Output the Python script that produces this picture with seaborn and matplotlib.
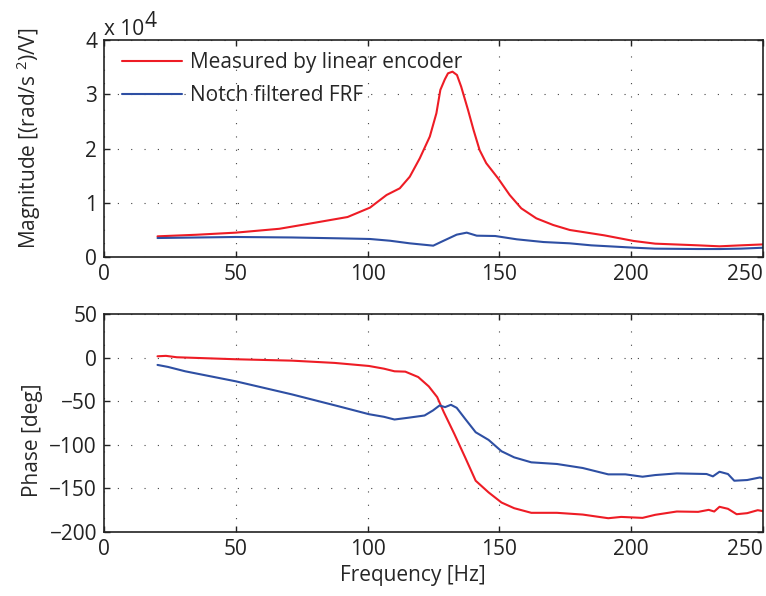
import numpy as np
import pandas as pd
import matplotlib
matplotlib.use("Agg")
import matplotlib.pyplot as plt
from matplotlib.ticker import FuncFormatter
import seaborn as sns

# ---- data ----
mag_red_f = [20.3, 35, 50, 66.5, 79.4, 92.4, 100.9, 107.2, 112.2, 116, 119.8, 123.6, 126.1, 127.6,
             129.3, 130.5, 132.2, 133.9, 135.5, 138.1, 140.2, 142.5, 145, 149.5, 153.9, 158.3, 164,
             170.4, 176.7, 189.7, 201, 209.1, 225.4, 233.5, 241.6, 250.5]
mag_red = [0.381, 0.41, 0.449, 0.52, 0.627, 0.737, 0.91, 1.143, 1.266, 1.48, 1.82, 2.22, 2.65, 3.08,
           3.275, 3.386, 3.416, 3.355, 3.14, 2.71, 2.34, 1.97, 1.73, 1.45, 1.143, 0.897, 0.713,
           0.59, 0.498, 0.40, 0.295, 0.246, 0.215, 0.197, 0.215, 0.233]  # x 1e4

mag_blue_f = [20.3, 50, 71.3, 89.2, 100.9, 108.5, 116, 124.9, 128.1, 133.8, 137.6, 141.4, 148.4,
              156.6, 166.7, 176.7, 184.8, 201, 209, 225.4, 233.5, 241.6, 250.5]
mag_blue = [0.35, 0.369, 0.36, 0.344, 0.332, 0.30, 0.252, 0.209, 0.283, 0.412, 0.449, 0.393, 0.387,
            0.326, 0.276, 0.252, 0.215, 0.172, 0.154, 0.147, 0.147, 0.154, 0.172]  # x 1e4

ph_red_f = [20.3, 23.5, 27.6, 50, 71.3, 87.5, 100.5, 106.2, 110.2, 114.3, 119.2, 123.2, 126.4, 128.9,
            132.9, 137, 141, 145.9, 150.8, 155.6, 162.1, 171.8, 181.6, 191.3, 196.2, 204.3, 209.1,
            217.3, 225.4, 229.4, 231.5, 233.5, 236.7, 240, 244, 248, 250.9]
ph_red = [1.5, 2, 0.4, -1.9, -3.5, -6.1, -9.6, -12.7, -15.7, -16.1, -22.3, -33, -45.3, -62.5,
          -87.5, -114.4, -141.2, -154.6, -166.2, -172.7, -178, -178, -180, -184.2, -182.7, -183.8, -180.3,
          -176.5, -176.9, -174.6, -176.5, -171.1, -173.4, -179.6, -178.4, -175, -176.5]

ph_blue_f = [20.3, 24.3, 30.8, 50, 71.3, 89.2, 100.5, 106.2, 110.2, 115.1, 121.6, 124.8, 127.3, 129.4,
             131.6, 133.8, 137, 141, 145.9, 150.8, 155.6, 162.1, 171.8, 181.6, 191.3, 197.8, 204.3,
             209.1, 217.3, 228.6, 231, 233.5, 236.7, 239.1, 244, 248.9, 250.9]
ph_blue = [-8.4, -10.7, -15.7, -27.2, -42.2, -56, -64.9, -67.9, -71, -69.1, -66.4, -60.6, -54.9, -56.8,
           -54.1, -57.6, -70.2, -85.6, -94.4, -107.4, -114.4, -120.1, -122, -126.6, -133.9, -133.9, -136.6,
           -134.7, -132.8, -133.5, -136.2, -130.9, -133.5, -141.2, -140.4, -137.4, -139.7]

labels = ["Measured by linear encoder", "Notch filtered FRF"]
x_ticks = [0, 50, 100, 150, 200, 250]
mag_ticks = [0, 1e4, 2e4, 3e4, 4e4]
ph_ticks = [50, 0, -50, -100, -150, -200]

RED = "#ee1c25"
BLUE = "#2e4fa3"

sns.set_style("ticks")
plt.rcParams["font.family"] = ["Open Sans", "DejaVu Sans"]
plt.rcParams["mathtext.fontset"] = "custom"
plt.rcParams["mathtext.rm"] = "Open Sans"
plt.rcParams["mathtext.it"] = "Open Sans"
FS = 15

fig = plt.figure(figsize=(7.66, 5.96), dpi=100)
ax1 = fig.add_axes([104 / 766, 1 - 257 / 596, 659 / 766, 217 / 596])
ax2 = fig.add_axes([104 / 766, 1 - 532 / 596, 659 / 766, 218 / 596])

df_mr = pd.DataFrame({"f": mag_red_f, "m": np.array(mag_red) * 1e4})
df_mb = pd.DataFrame({"f": mag_blue_f, "m": np.array(mag_blue) * 1e4})
sns.lineplot(data=df_mr, x="f", y="m", ax=ax1, color=RED, lw=1.5, label=labels[0])
sns.lineplot(data=df_mb, x="f", y="m", ax=ax1, color=BLUE, lw=1.5, label=labels[1])

df_pr = pd.DataFrame({"f": ph_red_f, "p": ph_red})
df_pb = pd.DataFrame({"f": ph_blue_f, "p": ph_blue})
sns.lineplot(data=df_pr, x="f", y="p", ax=ax2, color=RED, lw=1.5, legend=False)
sns.lineplot(data=df_pb, x="f", y="p", ax=ax2, color=BLUE, lw=1.5, legend=False)

for ax in (ax1, ax2):
    ax.set_xlim(0, 250)
    ax.set_xticks(x_ticks)
    ax.grid(True, color="#444444", linestyle=(0, (1, 11)), linewidth=0.8)
    ax.tick_params(direction="in", top=True, right=True, length=4.5, width=1,
                   labelsize=FS, pad=5, colors="#222222")
    for s in ax.spines.values():
        s.set_linewidth(1.2)
        s.set_color("#222222")
        s.set_visible(True)

ax1.set_ylim(0, 4e4)
ax1.set_yticks(mag_ticks)
ax1.yaxis.set_major_formatter(FuncFormatter(lambda v, p: f"{v / 1e4:g}"))
ax1.set_xlabel("")
ax1.set_ylabel("Magnitude [(rad/s $^{2}$)/V]", fontsize=FS)
ax1.yaxis.set_label_coords(-0.092, 0.548)
ax1.text(0.0, 1.025, "x 10", transform=ax1.transAxes, fontsize=FS, ha="left", va="baseline", color="#222222")
ax1.text(0.062, 1.06, "4", transform=ax1.transAxes, fontsize=FS, ha="left", va="baseline", color="#222222")

leg = ax1.legend(loc="upper left", bbox_to_anchor=(0.027, 0.945), frameon=False, fontsize=FS,
                 handlelength=2.9, handletextpad=0.38, labelspacing=0.6, borderpad=0, borderaxespad=0)

ax2.set_ylim(-200, 50)
ax2.set_yticks(ph_ticks)
ax2.set_ylabel("Phase [deg]", fontsize=FS)
ax2.yaxis.set_label_coords(-0.092, 0.422)
ax2.set_xlabel("Frequency [Hz]", fontsize=FS)
ax2.xaxis.set_label_coords(0.468, -0.152)

fig.canvas.draw()
for ax in (ax1, ax2):
    ax.get_xticklabels()[-1].set_horizontalalignment("right")
    ax.get_xticklabels()[-1].set_x(250)

fig.savefig("out.png", dpi=100)
